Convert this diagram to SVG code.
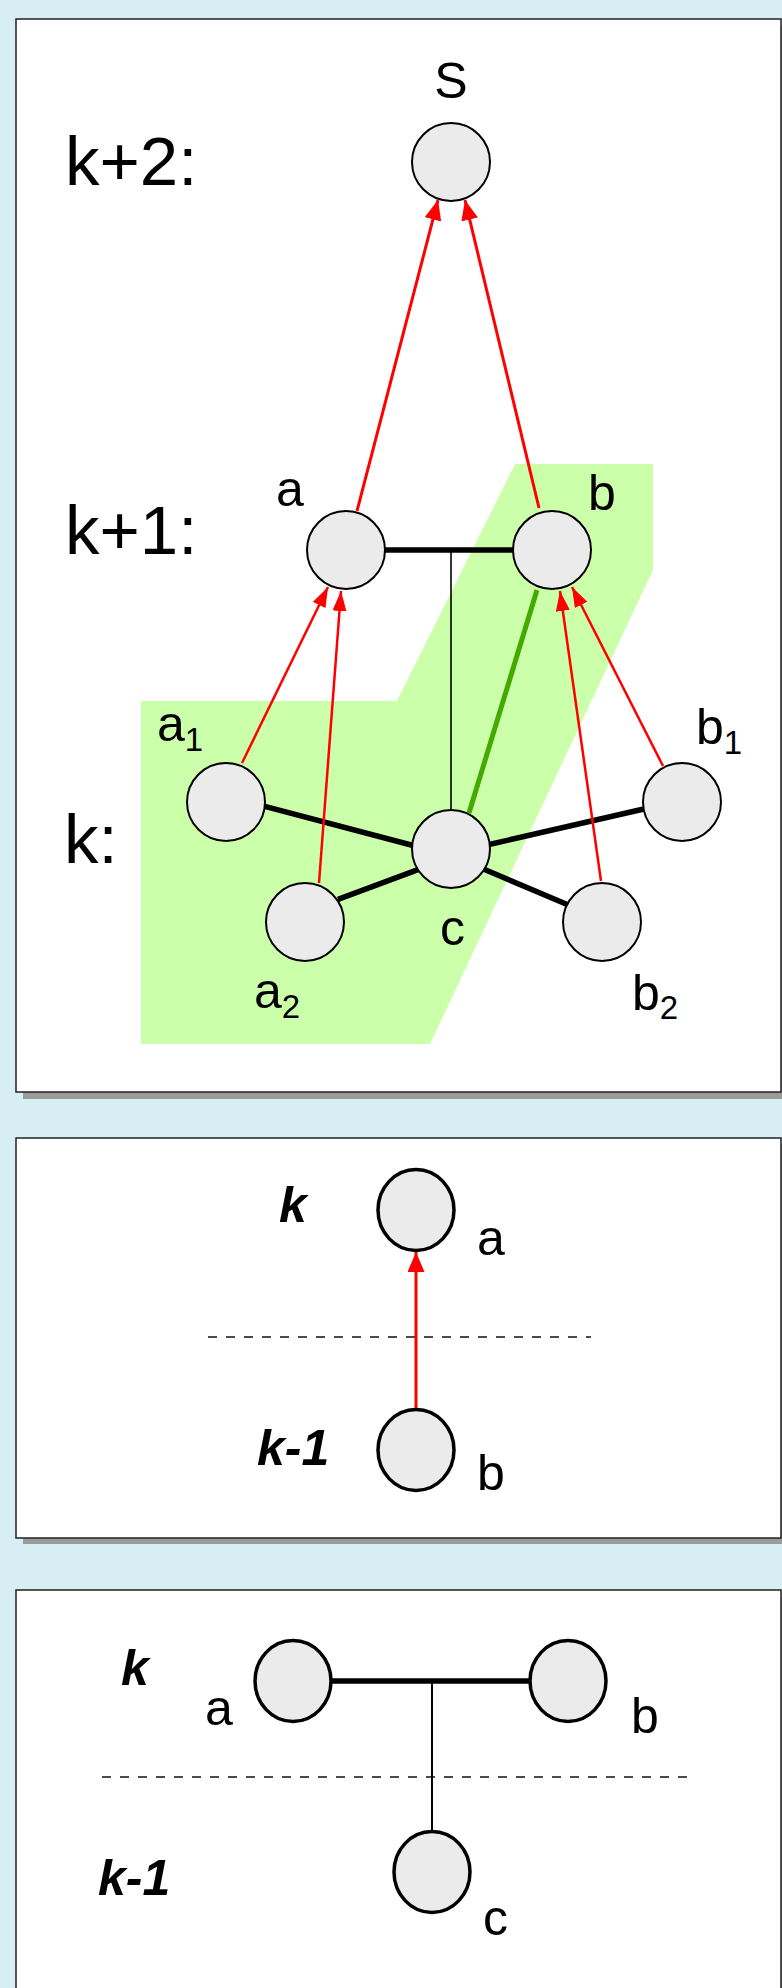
<svg xmlns="http://www.w3.org/2000/svg" width="782" height="1988" viewBox="0 0 782 1988">
<style>
.bg{fill:#d7eef4}
.shadow{fill:#9a9a9a}
.frame{fill:#ffffff;stroke:#222;stroke-width:1.5}
.node{fill:#ebebeb;stroke:#000;stroke-width:2}
.node2{fill:#ebebeb;stroke:#000;stroke-width:3.5}
.lvl{font-family:"Liberation Sans",Arial,sans-serif;font-size:69px;fill:#000}
.lvlb{font-family:"Liberation Sans",Arial,sans-serif;font-size:50px;font-weight:bold;font-style:italic;fill:#000}
.lbl{font-family:"Liberation Sans",Arial,sans-serif;font-size:50px;fill:#000}
.sub{font-size:33px}
.red{stroke:#ff0000;stroke-width:2.5;fill:none;marker-end:url(#ah)}
.red2{stroke:#ff0000;stroke-width:3;fill:none;marker-end:url(#ah2)}
.thick{stroke:#000;stroke-width:5.5;fill:none}
.thin{stroke:#000;stroke-width:1.6;fill:none}
.green{stroke:#44aa00;stroke-width:5;fill:none}
.dash{stroke:#111;stroke-width:1.3;stroke-dasharray:9,9;fill:none}
</style>
<defs>
<marker id="ah" markerUnits="userSpaceOnUse" markerWidth="21" markerHeight="15" refX="20" refY="7" orient="auto">
<path d="M0,0 L20,7 L0,14 z" fill="#ff0000"/>
</marker>
<marker id="ah2" markerUnits="userSpaceOnUse" markerWidth="21" markerHeight="18" refX="20" refY="8.5" orient="auto">
<path d="M0,0 L20,8.5 L0,17 z" fill="#ff0000"/>
</marker>
</defs>
<rect class="bg" x="0" y="0" width="782" height="1988"/>

<!-- Panel 1 -->
<g id="panel1">
<rect class="shadow" x="23" y="26" width="770" height="1073"/>
<rect class="frame" x="16" y="19" width="765" height="1073"/>
<polygon points="515,464 653,464 653,570 430,1044 141,1044 141,701 397,701" fill="#ccffaa"/>
<text class="lvl" x="65" y="185">k+2:</text>
<text class="lvl" x="65" y="554">k+1:</text>
<text class="lvl" x="64" y="863">k:</text>
</g>

<g id="connectors1">
<line class="red2" x1="357" y1="511" x2="438" y2="200"/>
<line class="red2" x1="539" y1="508" x2="465" y2="200"/>
<line class="thick" x1="384" y1="550" x2="514" y2="550"/>
<line class="thin" x1="451" y1="550" x2="451" y2="812"/>
<line class="green" x1="537" y1="590" x2="469" y2="813"/>
<line class="thick" x1="262" y1="805.7" x2="415" y2="846"/>
<line class="thick" x1="338" y1="899.3" x2="420" y2="868.8"/>
<line class="thick" x1="487" y1="845" x2="646" y2="808.5"/>
<line class="thick" x1="484" y1="869.3" x2="569" y2="905.3"/>
<line class="red" x1="242" y1="763" x2="328" y2="587"/>
<line class="red" x1="319" y1="883" x2="341" y2="591"/>
<line class="red" x1="601" y1="881" x2="560" y2="591"/>
<line class="red" x1="663" y1="766" x2="572" y2="587"/>
</g>

<g id="node-S"><circle class="node" cx="451" cy="162" r="39"/><text class="lbl" x="451" y="98" text-anchor="middle">S</text></g>
<g id="node-a"><circle class="node" cx="346" cy="550" r="39"/><text class="lbl" x="276" y="506">a</text></g>
<g id="node-b"><circle class="node" cx="552" cy="550" r="39"/><text class="lbl" x="588" y="510">b</text></g>
<g id="node-a1"><circle class="node" cx="226" cy="802" r="39"/><text class="lbl" x="157" y="741">a<tspan class="sub" dy="10">1</tspan></text></g>
<g id="node-a2"><circle class="node" cx="305" cy="922" r="39"/><text class="lbl" x="254" y="1008">a<tspan class="sub" dy="10">2</tspan></text></g>
<g id="node-c"><circle class="node" cx="451" cy="849" r="39"/><text class="lbl" x="440" y="945">c</text></g>
<g id="node-b1"><circle class="node" cx="682" cy="802" r="39"/><text class="lbl" x="696" y="744">b<tspan class="sub" dy="10">1</tspan></text></g>
<g id="node-b2"><circle class="node" cx="602" cy="922" r="39"/><text class="lbl" x="632" y="1010">b<tspan class="sub" dy="9">2</tspan></text></g>

<!-- Panel 2 -->
<g id="panel2">
<rect class="shadow" x="23" y="1144" width="770" height="400"/>
<rect class="frame" x="16" y="1138" width="765" height="400"/>
<text class="lvlb" x="279" y="1222">k</text>
<text class="lvlb" x="257" y="1465">k-1</text>
<line class="dash" x1="208" y1="1337" x2="591" y2="1337"/>
</g>
<g id="connectors2">
<line class="red2" x1="416" y1="1408" x2="416" y2="1252"/>
</g>
<g id="p2-node-a"><ellipse class="node2" cx="416" cy="1210" rx="38" ry="40.5"/><text class="lbl" x="477" y="1255">a</text></g>
<g id="p2-node-b"><ellipse class="node2" cx="416" cy="1450" rx="38" ry="40.5"/><text class="lbl" x="477" y="1490">b</text></g>

<!-- Panel 3 -->
<g id="panel3">
<rect class="shadow" x="23" y="1597" width="770" height="420"/>
<rect class="frame" x="16" y="1590" width="765" height="420"/>
<text class="lvlb" x="121" y="1685">k</text>
<text class="lvlb" x="98" y="1895">k-1</text>
<line class="dash" x1="102" y1="1777" x2="691" y2="1777"/>
</g>
<g id="connectors3">
<line class="thick" x1="330" y1="1681" x2="532" y2="1681"/>
<line class="thin" style="stroke-width:2" x1="432" y1="1681" x2="432" y2="1833"/>
</g>
<g id="p3-node-a"><ellipse class="node2" cx="293" cy="1681" rx="38" ry="40.5"/><text class="lbl" x="205" y="1725">a</text></g>
<g id="p3-node-b"><ellipse class="node2" cx="568" cy="1681" rx="38" ry="40.5"/><text class="lbl" x="631" y="1733">b</text></g>
<g id="p3-node-c"><ellipse class="node2" cx="432" cy="1872" rx="38" ry="40.5"/><text class="lbl" x="483" y="1935">c</text></g>
</svg>
